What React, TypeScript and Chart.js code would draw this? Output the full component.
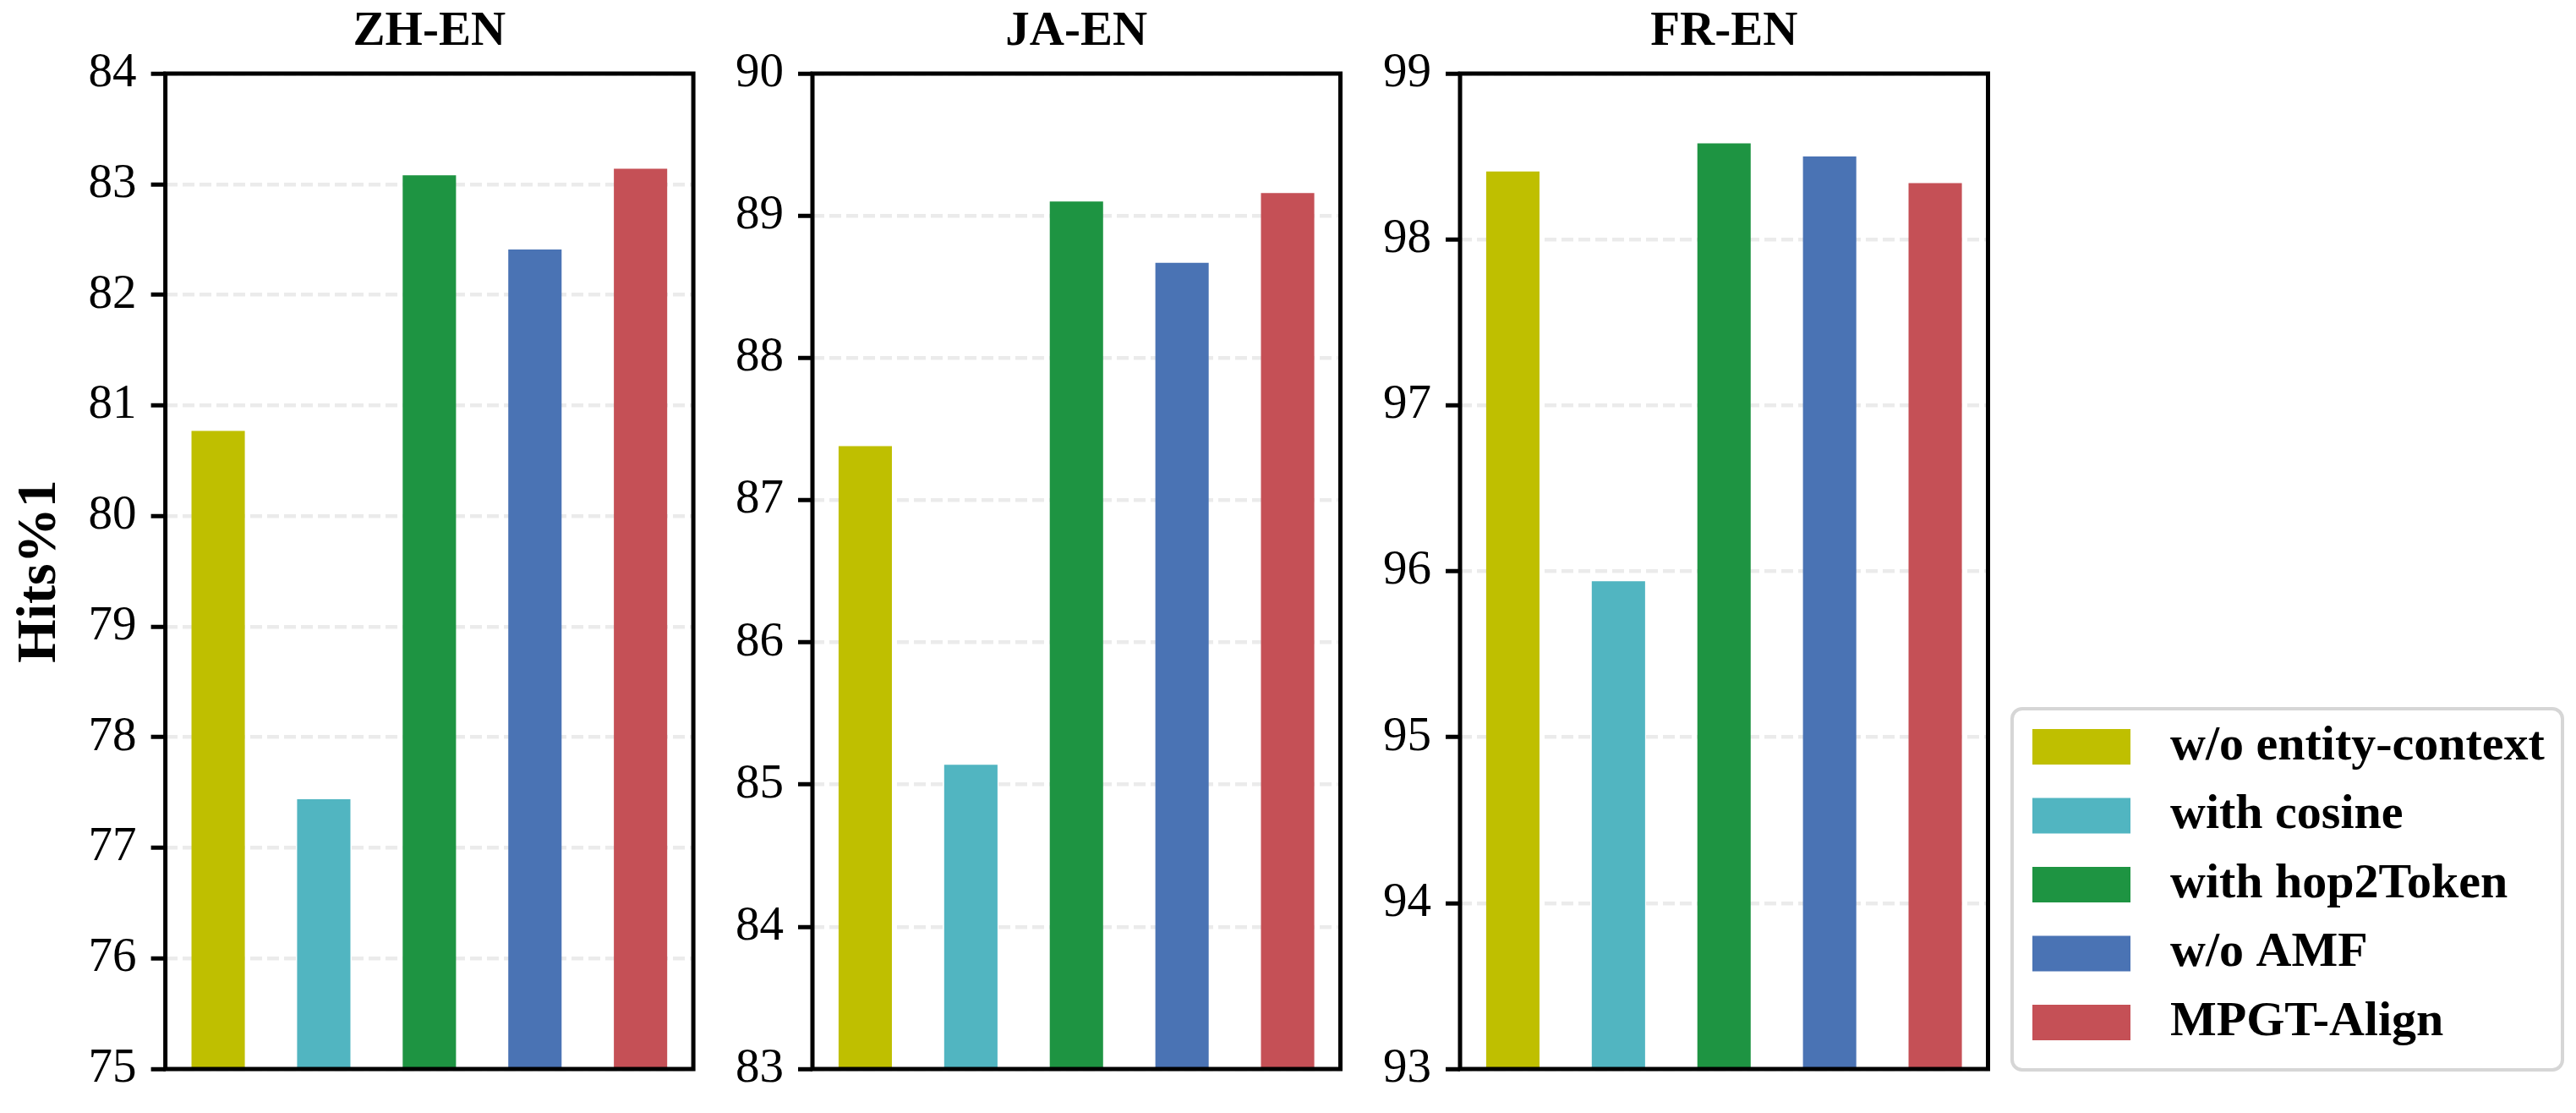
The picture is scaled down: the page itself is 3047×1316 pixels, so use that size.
import React, { useEffect, useRef } from 'react';
import { Chart, registerables } from 'chart.js';

Chart.register(...registerables);

// ---------------- data ----------------
const methods = ['w/o entity-context', 'with cosine', 'with hop2Token', 'w/o AMF', 'MPGT-Align'];
const methodColors = ['#bfbf00', '#51b5c1', '#1e9442', '#4a73b4', '#c55056'];

const panelTitles = ['ZH-EN', 'JA-EN', 'FR-EN'];
const zhEn = [80.77, 77.44, 83.08, 82.41, 83.14];
const jaEn = [87.38, 85.14, 89.1, 88.67, 89.16];
const frEn = [98.41, 95.94, 98.58, 98.5, 98.34];

const yMins = [75, 83, 93];
const yMaxs = [84, 90, 99];
const yAxisLabel = 'Hits%1';

// ---------------- layout ----------------
const PAGE_W = 3047;
const PAGE_H = 1316;
const SERIF = '"Liberation Serif", "Times New Roman", Times, serif';
const AX_TOP = 87;
const AX_BOTTOM = 1264;
const AX_LEFTS = [195.6, 961, 1727];
const AX_WIDTH = 624.5;

const framePlugin = {
  id: 'frame',
  afterDatasetsDraw(chart: any) {
    const { ctx, chartArea: a } = chart;
    ctx.save();
    ctx.strokeStyle = '#000';
    ctx.lineWidth = 5;
    ctx.strokeRect(a.left, a.top, a.right - a.left, a.bottom - a.top);
    ctx.restore();
  },
};

const legendPlugin = {
  id: 'boxLegend',
  afterDraw(chart: any) {
    const ctx = chart.ctx;
    const x0 = 2380, y0 = 838, x1 = 3031, y1 = 1265;
    ctx.save();
    ctx.beginPath();
    if (ctx.roundRect) ctx.roundRect(x0, y0, x1 - x0, y1 - y0, 12);
    else ctx.rect(x0, y0, x1 - x0, y1 - y0);
    ctx.fillStyle = '#ffffff';
    ctx.fill();
    ctx.lineWidth = 4;
    ctx.strokeStyle = '#d6d6d6';
    ctx.stroke();
    ctx.font = `bold 58px ${SERIF}`;
    ctx.textBaseline = 'middle';
    ctx.textAlign = 'left';
    methods.forEach((m, i) => {
      const top = 862 + i * 81.5;
      ctx.fillStyle = methodColors[i];
      ctx.fillRect(2404, top, 116, 42);
      ctx.fillStyle = '#000';
      ctx.fillText(m, 2567, top + 21);
    });
    ctx.restore();
  },
};

function makeConfig(idx: number, values: number[]) {
  const isFirst = idx === 0;
  const yW = isFirst ? 187.7 : 120;
  const left = AX_LEFTS[idx];
  const right = left + AX_WIDTH;
  const plugins: any[] = [framePlugin];
  if (idx === 2) plugins.push(legendPlugin);
  return {
    type: 'bar' as const,
    data: {
      labels: methods,
      datasets: [
        {
          label: panelTitles[idx],
          data: values,
          backgroundColor: methodColors,
          borderWidth: 0,
          barPercentage: 0.505,
          categoryPercentage: 1,
        },
      ],
    },
    options: {
      responsive: false,
      animation: false as const,
      layout: {
        padding: { left: left - yW, right: PAGE_W - right, top: 0, bottom: PAGE_H - AX_BOTTOM },
      },
      plugins: {
        legend: { display: false },
        tooltip: { enabled: false },
        title: {
          display: true,
          text: panelTitles[idx],
          fullSize: false,
          color: '#000',
          font: { family: SERIF, size: 57, weight: 'bold' as const },
          padding: { top: 4, bottom: AX_TOP - 4 - 57 * 1.2 },
        },
      },
      scales: {
        x: { display: false, offset: true },
        y: {
          min: yMins[idx],
          max: yMaxs[idx],
          afterFit: (s: any) => {
            s.width = yW;
          },
          ticks: {
            stepSize: 1,
            color: '#000',
            padding: 17,
            font: { family: SERIF, size: 57 },
          },
          grid: {
            color: '#ebebeb',
            lineWidth: 4.5,
            drawTicks: true,
            tickColor: '#000',
            tickWidth: 5,
            tickLength: 17,
          },
          border: { display: false, dash: [14, 6] },
          title: {
            display: isFirst,
            text: yAxisLabel,
            color: '#000',
            font: { family: SERIF, size: 66, weight: 'bold' as const },
            padding: { top: 0, bottom: 0 },
          },
        },
      },
    },
    plugins,
  };
}

function Panel({ idx, values }: { idx: number; values: number[] }) {
  const ref = useRef<HTMLCanvasElement | null>(null);
  useEffect(() => {
    if (!ref.current) return;
    const chart = new Chart(ref.current, makeConfig(idx, values) as any);
    return () => chart.destroy();
  }, [idx, values]);
  return (
    <canvas
      ref={ref}
      width={PAGE_W}
      height={PAGE_H}
      style={{ position: 'absolute', left: 0, top: 0, width: PAGE_W, height: PAGE_H }}
    />
  );
}

export default function App() {
  const series = [zhEn, jaEn, frEn];
  return (
    <div
      style={{
        position: 'absolute',
        left: 0,
        top: 0,
        width: PAGE_W,
        height: PAGE_H,
        background: '#fff',
        overflow: 'hidden',
      }}
    >
      {series.map((v, i) => (
        <Panel key={i} idx={i} values={v} />
      ))}
    </div>
  );
}
